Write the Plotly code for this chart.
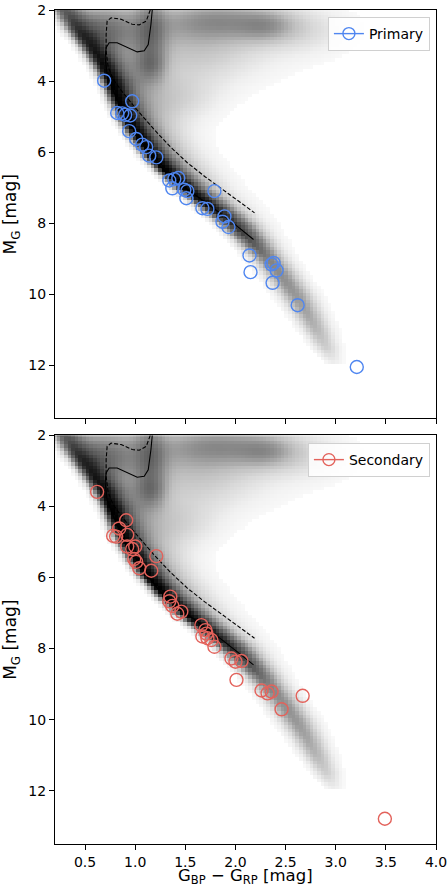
import numpy as np
import plotly.graph_objects as go

# ---------------- data ----------------
# Primary components (BP-RP colour, absolute G magnitude)
prim_col = [0.69, 0.97, 0.82, 0.87, 0.90, 0.95, 0.94, 1.01, 1.07, 1.11, 1.14, 1.21,
            1.34, 1.39, 1.43, 1.37, 1.49, 1.52, 1.51, 1.79, 1.67, 1.72, 1.89, 1.87,
            1.93, 2.14, 2.15, 2.36, 2.38, 2.41, 2.37, 2.62, 3.21]
prim_mag = [3.99, 4.57, 4.90, 4.91, 4.95, 4.97, 5.41, 5.63, 5.79, 5.86, 6.10, 6.15,
            6.80, 6.76, 6.73, 7.02, 7.06, 7.10, 7.30, 7.10, 7.58, 7.60, 7.81, 7.96,
            8.11, 8.91, 9.38, 9.16, 9.12, 9.33, 9.68, 10.31, 12.05]

# Secondary components
sec_col = [0.62, 0.91, 0.84, 0.78, 0.81, 0.92, 0.92, 0.97, 1.00, 0.99, 1.01, 1.04,
           1.16, 1.21, 1.35, 1.34, 1.37, 1.42, 1.46, 1.66, 1.70, 1.71, 1.67, 1.72,
           1.76, 1.79, 1.96, 2.00, 2.06, 2.01, 2.26, 2.32, 2.36, 2.67, 2.46, 3.49]
sec_mag = [3.59, 4.39, 4.62, 4.83, 4.85, 4.80, 5.13, 5.20, 5.13, 5.48, 5.56, 5.74,
           5.81, 5.40, 6.54, 6.67, 6.80, 7.02, 6.96, 7.34, 7.48, 7.58, 7.66, 7.71,
           7.76, 7.95, 8.28, 8.37, 8.35, 8.88, 9.18, 9.26, 9.21, 9.33, 9.71, 12.79]

# Isochrone (single stars, solid)
iso_col = [1.17, 1.157, 1.13, 1.09, 1.02, 0.92, 0.82, 0.74, 0.71, 0.70, 0.72, 0.77,
           0.83, 0.90, 1.00, 1.12, 1.25, 1.40, 1.55, 1.70, 1.85, 2.00, 2.18]
iso_mag = [2.00, 2.40, 2.97, 3.15, 3.18, 3.06, 2.92, 2.92, 3.06, 3.34, 3.81, 4.20,
           4.60, 5.00, 5.45, 5.95, 6.40, 6.80, 7.10, 7.40, 7.72, 8.05, 8.46]

# Equal-mass binary sequence (dashed)
bin_col = [1.15, 1.14, 1.11, 1.04, 0.97, 0.86, 0.76, 0.72, 0.71, 0.71, 0.73, 0.78,
           0.87, 1.00, 1.19, 1.35, 1.52, 1.70, 1.90, 2.05, 2.19]
bin_mag = [2.00, 2.08, 2.31, 2.42, 2.40, 2.26, 2.22, 2.31, 2.69, 3.15, 3.60, 3.95,
           4.30, 4.75, 5.37, 5.85, 6.30, 6.70, 7.10, 7.42, 7.71]

# Background field-star density (hexbin-like), described by the main-sequence ridge
ms_mag = [2.0, 2.5, 3.0, 3.5, 4.0, 4.5, 5.0, 5.5, 6.0, 6.5, 7.0, 7.5, 8.0, 8.5,
          9.0, 9.5, 10.0, 10.5, 11.0, 11.5, 12.0]
ms_col = [0.30, 0.42, 0.55, 0.66, 0.75, 0.82, 0.90, 1.01, 1.13, 1.29, 1.48, 1.71,
          1.94, 2.13, 2.31, 2.46, 2.59, 2.70, 2.80, 2.90, 2.99]
ms_amp = [0.62, 0.68, 0.80, 0.92, 1.00, 1.00, 1.00, 1.00, 1.00, 1.00, 0.98, 0.92,
          0.80, 0.68, 0.58, 0.53, 0.50, 0.46, 0.40, 0.30, 0.10]
ms_wl = [0.10, 0.09, 0.08, 0.075, 0.07, 0.07, 0.07, 0.07, 0.07, 0.07, 0.075,
         0.08, 0.09, 0.10, 0.11, 0.12, 0.12, 0.11, 0.10, 0.09, 0.07]
ms_wr = [0.12, 0.12, 0.12, 0.12, 0.12, 0.12, 0.12, 0.12, 0.12, 0.12, 0.13, 0.14,
         0.15, 0.15, 0.15, 0.14, 0.14, 0.13, 0.12, 0.10, 0.07]
ms_tail = [0.0, 0.0, 0.2, 0.45, 0.55, 0.55, 0.55, 0.55, 0.55, 0.55, 0.52, 0.45,
           0.35, 0.2, 0.0, 0.0, 0.0, 0.0, 0.0, 0.0, 0.0]
ms_tailw = [0.2, 0.2, 0.25, 0.3, 0.33, 0.33, 0.33, 0.33, 0.33, 0.32, 0.30, 0.28,
            0.25, 0.22, 0.2, 0.2, 0.2, 0.2, 0.2, 0.2, 0.2]

# Upper CMD (turn-off, sub-giants, giants) clumps: centre colour, centre mag,
# colour spread, mag spread, darkness
clump_col = [0.65, 1.15, 1.15, 1.80, 2.30, 1.60, 2.70, 1.45]
clump_mag = [2.60, 2.60, 3.55, 2.30, 2.45, 3.20, 2.60, 4.50]
clump_sc = [0.35, 0.11, 0.11, 0.50, 0.20, 0.55, 0.35, 0.30]
clump_sm = [0.60, 0.65, 0.35, 0.45, 0.30, 0.70, 0.50, 0.50]
clump_amp = [0.62, 0.45, 0.40, 0.48, 0.28, 0.30, 0.18, 0.20]

x_ticks = [0.5, 1.0, 1.5, 2.0, 2.5, 3.0, 3.5, 4.0]
y_ticks = [2, 4, 6, 8, 10, 12]

BLUE = "#4f86f0"
RED = "#e3625b"

# ---------------- background density ----------------
gx = np.arange(0.2, 4.0, 0.036)
gy = np.arange(2.0, 13.5, 0.1)
X, Y = np.meshgrid(gx, gy)

c = np.interp(Y, ms_mag, ms_col)
amp = np.interp(Y, ms_mag, ms_amp, right=0.0)
wl = np.interp(Y, ms_mag, ms_wl)
wr = np.interp(Y, ms_mag, ms_wr)
ta = np.interp(Y, ms_mag, ms_tail)
tw = np.interp(Y, ms_mag, ms_tailw)
dx = X - c
core = amp * np.exp(-0.5 * (dx / np.where(dx < 0, wl, wr)) ** 2)
tail = np.where(dx > 0, ta * np.exp(-0.5 * (dx / tw) ** 2), 0.0)
gate = np.where(dx < 0, np.exp(-0.5 * (dx / wl) ** 2), 1.0)
keep = (1 - core) * (1 - tail)
for cx, cy, sx, sy, a in zip(clump_col, clump_mag, clump_sc, clump_sm, clump_amp):
    b = a * np.exp(-0.5 * ((X - cx) / sx) ** 2 - 0.5 * ((Y - cy) / sy) ** 2) * gate
    keep = keep * (1 - b)
Z = 1 - keep
Z = np.where(Z < 0.05, np.nan, Z)

greys = [[0.0, "#ffffff"], [0.125, "#f0f0f0"], [0.25, "#d9d9d9"], [0.375, "#bdbdbd"],
         [0.5, "#969696"], [0.625, "#737373"], [0.75, "#525252"], [0.875, "#252525"],
         [1.0, "#000000"]]

fig = go.Figure()

panels = [("x", "y", "Primary", prim_col, prim_mag, BLUE, "legend"),
          ("x2", "y2", "Secondary", sec_col, sec_mag, RED, "legend2")]

for xa, ya, name, cols, mags, colr, leg in panels:
    fig.add_trace(go.Heatmap(x=gx, y=gy, z=Z, colorscale=greys, zmin=0, zmax=1,
                             showscale=False, xaxis=xa, yaxis=ya, hoverinfo="skip"))
    fig.add_trace(go.Scatter(x=iso_col, y=iso_mag, mode="lines",
                             line=dict(color="black", width=1.1),
                             xaxis=xa, yaxis=ya, showlegend=False))
    fig.add_trace(go.Scatter(x=bin_col, y=bin_mag, mode="lines",
                             line=dict(color="black", width=1.1, dash="4px,2px"),
                             xaxis=xa, yaxis=ya, showlegend=False))
    fig.add_trace(go.Scatter(x=cols, y=mags, mode="markers",
                             marker=dict(symbol="circle-open", size=13,
                                         color=colr, line=dict(width=1.4, color=colr)),
                             xaxis=xa, yaxis=ya, showlegend=False))
    fig.add_trace(go.Scatter(x=[None], y=[None], mode="lines+markers", name=name,
                             line=dict(color=colr, width=1.4),
                             marker=dict(symbol="circle-open", size=12, color=colr,
                                         line=dict(width=1.4, color=colr)),
                             xaxis=xa, yaxis=ya, legend=leg))

axis_common = dict(showline=True, mirror=True, linecolor="black", linewidth=1,
                   ticks="outside", ticklen=5, tickwidth=1, tickcolor="black",
                   showgrid=False, zeroline=False, automargin=False,
                   tickfont=dict(size=14, color="black"))

fig.update_layout(
    width=448, height=886,
    margin=dict(l=55, r=12, t=10, b=42),
    paper_bgcolor="white", plot_bgcolor="white",
    font=dict(family="DejaVu Sans", color="black"),
    xaxis=dict(domain=[0, 1], anchor="y", range=[0.2, 4.0], tickvals=x_ticks,
               showticklabels=False, matches="x2", **axis_common),
    yaxis=dict(domain=[0.5102, 1.0], anchor="x", range=[13.5, 2.0], tickvals=y_ticks,
               title=dict(text="M<sub>G</sub> [mag]", font=dict(size=17), standoff=8),
               **axis_common),
    xaxis2=dict(domain=[0, 1], anchor="y2", range=[0.2, 4.0], tickvals=x_ticks,
                ticktext=[f"{v:.1f}" for v in x_ticks], **axis_common),
    yaxis2=dict(domain=[0.0, 0.490], anchor="x2", range=[13.5, 2.0], tickvals=y_ticks,
                title=dict(text="M<sub>G</sub> [mag]", font=dict(size=17), standoff=8),
                **axis_common),
    legend=dict(x=0.984, y=0.9916, xanchor="right", yanchor="top",
                bgcolor="rgba(255,255,255,0.85)", bordercolor="#d0d0d0", borderwidth=1,
                font=dict(size=14)),
    legend2=dict(x=0.984, y=0.4808, xanchor="right", yanchor="top",
                 bgcolor="rgba(255,255,255,0.85)", bordercolor="#d0d0d0", borderwidth=1,
                 font=dict(size=14)),
    annotations=[dict(text="G<sub>BP</sub> \u2212 G<sub>RP</sub> [mag]",
                      xref="paper", yref="paper", x=0.5, y=-0.0392,
                      xanchor="center", yanchor="middle", showarrow=False,
                      font=dict(size=16.5, color="black"))],
)

fig.write_html("out.html")
